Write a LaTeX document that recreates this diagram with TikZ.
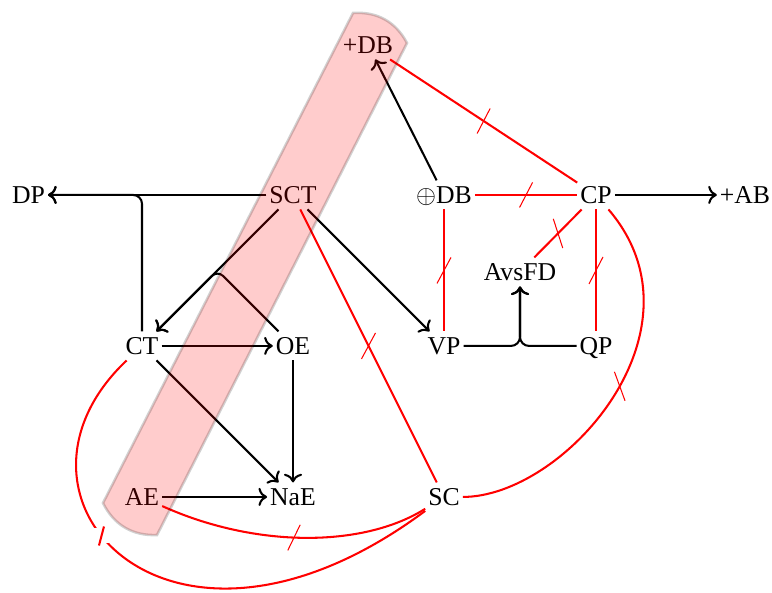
\documentclass[tikz,border=0pt]{standalone}
\usepackage{fontspec}
\setmainfont{Liberation Serif}
\usetikzlibrary{calc,arrows.meta}
\begin{document}
\begin{tikzpicture}[x=0.3891pt, y=-0.3891pt,
  lbl/.style={anchor=base, inner xsep=1pt, inner ysep=1.3pt, text height=7.3pt, text depth=1pt},
  blk/.style={draw=black, line width=0.8pt, -{Computer Modern Rightarrow}},
  rl/.style={draw=red, line width=0.8pt},
  tk/.style={draw=red, line width=0.4pt},
  band/.style={draw=black, draw opacity=0.18, fill=red, fill opacity=0.2, line width=1pt, text opacity=1}]
\useasboundingbox (0,0) rectangle (772,592);
% nodes
\node[lbl] (pDB) at (368,53) {+DB};
\node[lbl] (DP) at (28.5,203) {DP};
\node[lbl] (SCT) at (293,203) {SCT};
\node[lbl] (oDB) at (444,203) {$\oplus$DB};
\node[lbl] (CP) at (596,203) {CP};
\node[lbl] (AB) at (745,203) {+AB};
\node[lbl] (AvsFD) at (520,280) {AvsFD};
\node[lbl] (CT) at (142,354) {CT};
\node[lbl] (OE) at (293,354) {OE};
\node[lbl] (VP) at (444,354) {VP};
\node[lbl] (QP) at (596,354) {QP};
\node[lbl] (AE) at (142,505) {AE};
\node[lbl] (NaE) at (293,505) {NaE};
\node[lbl] (SC) at (444,505) {SC};
% black arrows
\draw[blk] (oDB) -- (pDB);
\draw[blk] (SCT) -- (DP);
\draw[blk, rounded corners=3.5pt] (CT) |- (DP);
\draw[blk] (SCT) -- (CT);
\coordinate (P) at ($(SCT)!0.5!(CT)$);
\draw[blk, rounded corners=3pt] (OE) -- (P) -- (CT);
\draw[blk] (SCT) -- (VP);
\draw[blk] (CP) -- (AB);
\draw[blk, rounded corners=3.5pt] (VP) -| (AvsFD);
\draw[blk, rounded corners=3.5pt] (QP) -| (AvsFD);
\draw[blk] (CT) -- (OE);
\draw[blk] (CT) -- (NaE);
\draw[blk] (OE) -- (NaE);
\draw[blk] (AE) -- (NaE);
% red edges
\draw[rl] (pDB) -- (CP) coordinate[pos=0.5] (t1);
\draw[rl] (oDB) -- (CP) coordinate[pos=0.5] (t2);
\draw[rl] (oDB) -- (VP) coordinate[pos=0.5] (t3);
\draw[rl] (CP) -- (QP) coordinate[pos=0.5] (t4);
\draw[rl] (CP) -- (AvsFD) coordinate[pos=0.5] (t5);
\draw[rl] (CP) .. controls (712,330) and (564,497) .. (SC) coordinate[pos=0.465] (t6);
\draw[rl] (SCT) -- (SC) coordinate[pos=0.5] (t7);
\draw[rl] (AE) .. controls (255,548) and (363,548) .. (SC) coordinate[pos=0.46] (t8);
\draw[rl] (CT) .. controls (-18,497) and (168,702) .. (SC) coordinate[pos=0.425] (t9);
% ticks
\draw[tk] ($(t1)+(-6.5,12.5)$) -- ($(t1)+(6.5,-12.5)$);
\draw[tk] ($(t2)+(-6.5,12.5)$) -- ($(t2)+(6.5,-12.5)$);
\draw[tk] ($(t3)+(-7,13)$) -- ($(t3)+(7,-13)$);
\draw[tk] ($(t4)+(-7,13.5)$) -- ($(t4)+(7,-13.5)$);
\draw[tk] ($(t5)+(-4.7,-14.6)$) -- ($(t5)+(4.7,14.6)$);
\draw[tk] ($(t6)+(-5.3,-14.5)$) -- ($(t6)+(5.3,14.5)$);
\draw[tk] ($(t7)+(-7,13)$) -- ($(t7)+(7,-13)$);
\draw[tk] ($(t8)+(-6.2,12.8)$) -- ($(t8)+(6.2,-12.8)$);
\fill[white] ($(t9)+(-8,-7.5)$) rectangle ($(t9)+(8,7.5)$);
\draw[rl] ($(t9)+(2.5,-9.5)$) -- ($(t9)+(-2.5,9.5)$);
% highlight band
\draw[band] (103,503) -- (353,13) to[bend left=33] (407,43) -- (157,535) to[bend left=33] (103,503) -- cycle;
\end{tikzpicture}
\end{document}
